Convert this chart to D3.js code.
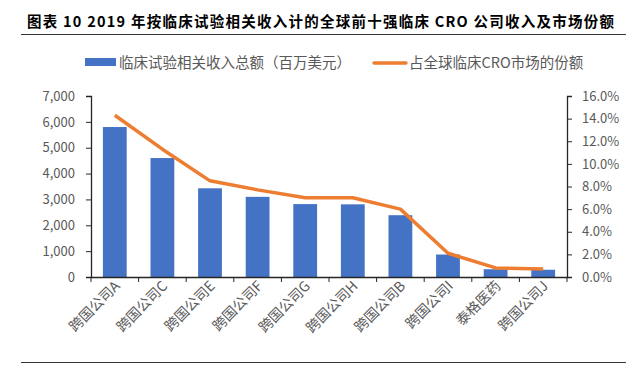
<!DOCTYPE html>
<html lang="zh">
<head>
<meta charset="UTF-8">
<title>CRO</title>
<script src="https://d3js.org/d3.v7.min.js"></script>
<style>
  body { margin: 0; background: #fff; }
  svg { display: block; font-family: "Noto Sans CJK SC", "Noto Sans", sans-serif; }
</style>
</head>
<body>
<script>
// 数据
var companies = ["跨国公司A", "跨国公司C", "跨国公司E", "跨国公司F", "跨国公司G",
                 "跨国公司H", "跨国公司B", "跨国公司I", "泰格医药", "跨国公司J"];
var revenue = [5800, 4600, 3430, 3100, 2820, 2810, 2390, 870, 300, 280];
var share = [14.3, 11.3, 8.5, 7.7, 7.0, 7.0, 6.0, 2.1, 0.8, 0.7];
var leftTicks = [0, 1000, 2000, 3000, 4000, 5000, 6000, 7000];
var rightTicks = [0, 2, 4, 6, 8, 10, 12, 14, 16];
var seriesNames = ["临床试验相关收入总额（百万美元）", "占全球临床CRO市场的份额"];
var title = "图表 10 2019 年按临床试验相关收入计的全球前十强临床 CRO 公司收入及市场份额";

var W = 643, H = 370;
var m = { left: 91, right: 76, top: 96, bottom: 93 };

var svg = d3.select("body").append("svg")
    .attr("width", W)
    .attr("height", H);

// 标题
svg.append("text")
    .attr("x", 27)
    .attr("y", 27)
    .attr("textLength", 587)
    .attr("lengthAdjust", "spacing")
    .style("font-size", "14.5px")
    .style("font-weight", "bold")
    .style("fill", "#000")
    .text(title);

svg.append("line")
    .attr("x1", 21).attr("x2", 626)
    .attr("y1", 34.5).attr("y2", 34.5)
    .style("stroke", "#333").style("stroke-width", 1);

svg.append("line")
    .attr("x1", 21).attr("x2", 626)
    .attr("y1", 362.5).attr("y2", 362.5)
    .style("stroke", "#333").style("stroke-width", 1);

var x = d3.scaleBand()
    .domain(companies)
    .range([m.left, W - m.right])
    .paddingInner(0.5)
    .paddingOuter(0.25);

var y = d3.scaleLinear()
    .domain([0, 7000])
    .range([H - m.bottom, m.top]);

var y2 = d3.scaleLinear()
    .domain([0, 16])
    .range([H - m.bottom, m.top]);

// 柱子
svg.selectAll("rect.bar")
    .data(revenue)
    .enter()
    .append("rect")
    .attr("class", "bar")
    .attr("x", function(d, i) { return x(companies[i]); })
    .attr("y", function(d) { return y(d); })
    .attr("width", x.bandwidth())
    .attr("height", function(d) { return y(0) - y(d); })
    .style("fill", "#4472C4");

// 折线
var line = d3.line()
    .x(function(d, i) { return x(companies[i]) + x.bandwidth() / 2; })
    .y(function(d) { return y2(d); });

svg.append("path")
    .datum(share)
    .attr("d", line)
    .style("fill", "none")
    .style("stroke", "#ED7D31")
    .style("stroke-width", 3.5)
    .style("stroke-linejoin", "round");

// 坐标轴
var tickColor = "#595959";

var leftAxis = svg.append("g")
    .attr("transform", "translate(" + m.left + ",0)")
    .call(d3.axisLeft(y).tickValues(leftTicks).tickSize(5).tickPadding(11)
        .tickFormat(d3.format(",")));

var rightAxis = svg.append("g")
    .attr("transform", "translate(" + (W - m.right) + ",0)")
    .call(d3.axisRight(y2).tickValues(rightTicks).tickSize(5).tickPadding(10)
        .tickFormat(function(d) { return d.toFixed(1) + "%"; }));

var step = x.step();
var bottomAxis = svg.append("g")
    .attr("transform", "translate(0," + (H - m.bottom) + ")")
    .call(d3.axisBottom(x).tickSize(0).tickSizeOuter(0));

// 分类之间的刻度线
bottomAxis.selectAll(".sep")
    .data(d3.range(companies.length + 1))
    .enter()
    .append("line")
    .attr("class", "sep")
    .attr("x1", function(i) { return m.left + i * step; })
    .attr("x2", function(i) { return m.left + i * step; })
    .attr("y1", 0).attr("y2", 5)
    .style("stroke", "#262626");

[leftAxis, rightAxis, bottomAxis].forEach(function(g) {
    g.selectAll(".domain").style("stroke", "#262626").style("stroke-width", 1.3);
    g.selectAll(".tick line").style("stroke", "#262626");
    g.selectAll("text")
        .style("fill", tickColor)
        .style("font-size", "13px")
        .style("font-family", "'Noto Sans CJK SC', 'Noto Sans', sans-serif");
});

bottomAxis.selectAll(".tick text")
    .attr("text-anchor", "end")
    .attr("transform", "translate(-1,3) rotate(-45)")
    .attr("dy", "0.7em")
    .attr("dx", "0")
    .attr("y", 0)
    .attr("x", 0)
    .style("font-size", "14px");

// 图例
var legend = svg.append("g");
legend.append("rect")
    .attr("x", 85).attr("y", 58)
    .attr("width", 31).attr("height", 8)
    .style("fill", "#4472C4");
legend.append("text")
    .attr("x", 119).attr("y", 67.5)
    .style("font-size", "14.5px")
    .style("fill", tickColor)
    .text(seriesNames[0]);
legend.append("line")
    .attr("x1", 374).attr("x2", 406)
    .attr("y1", 63).attr("y2", 63)
    .style("stroke", "#ED7D31")
    .style("stroke-width", 3.5)
    .style("stroke-linecap", "round");
legend.append("text")
    .attr("x", 409).attr("y", 67.5)
    .style("font-size", "14.5px")
    .style("fill", tickColor)
    .text(seriesNames[1]);
</script>
</body>
</html>
